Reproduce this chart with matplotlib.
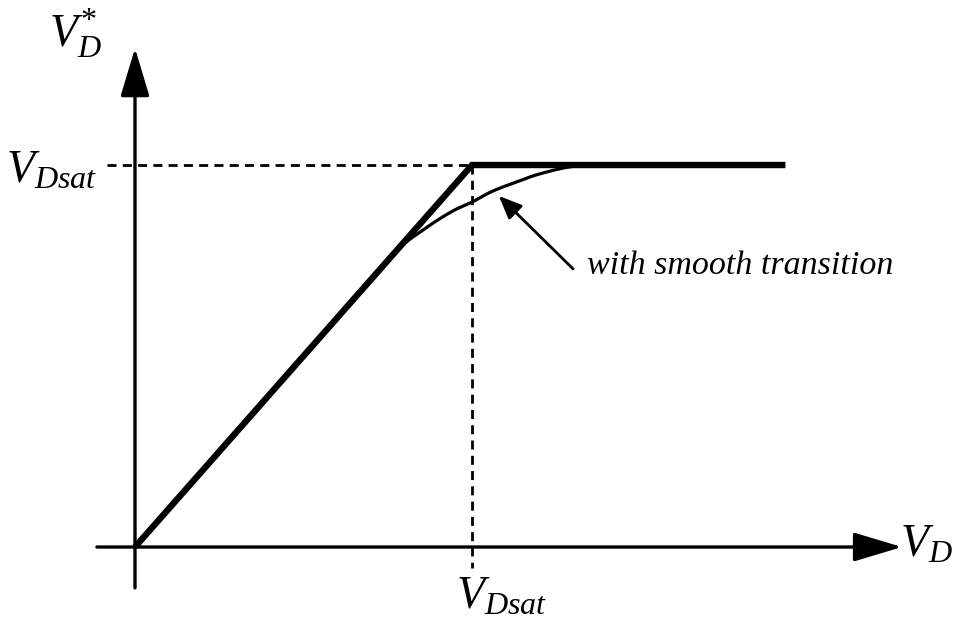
import numpy as np
import matplotlib
matplotlib.use("Agg")
import matplotlib.pyplot as plt
from matplotlib.patches import ArrowStyle

plt.rcParams['font.family'] = 'Liberation Serif'
plt.rcParams['mathtext.fontset'] = 'custom'
plt.rcParams['mathtext.rm'] = 'Liberation Serif'
plt.rcParams['mathtext.it'] = 'Liberation Serif:italic'
plt.rcParams['lines.scale_dashes'] = False

# Everything in units of V_Dsat
v_dsat = 1.0

# Ideal (piecewise) characteristic: linear up to V_Dsat, flat after
ideal_vd = [0.0, 1.0, 1.93]
ideal_vdstar = [0.0, 1.0, 1.0]

# Characteristic with smooth transition
smooth_vd = [0.70, 0.76, 0.80, 0.85, 0.90, 0.95, 1.00, 1.05, 1.09, 1.14, 1.19, 1.27, 1.32, 1.38]
smooth_vdstar = [0.70, 0.76, 0.795, 0.827, 0.857, 0.883, 0.903, 0.927, 0.942, 0.958, 0.974, 0.992, 0.998, 1.0]


def catmull_rom(x, y, n=20):
    # smooth path through the given points
    p = np.column_stack([x, y])
    p = np.vstack([p[0], p, p[-1]])
    out = []
    t = np.linspace(0, 1, n, endpoint=False)[:, None]
    for i in range(1, len(p) - 2):
        p0, p1, p2, p3 = p[i - 1], p[i], p[i + 1], p[i + 2]
        seg = 0.5 * ((2 * p1) + (-p0 + p2) * t
                     + (2 * p0 - 5 * p1 + 4 * p2 - p3) * t ** 2
                     + (-p0 + 3 * p1 - 3 * p2 + p3) * t ** 3)
        out.append(seg)
    out.append(p[-2][None, :])
    out = np.vstack(out)
    return out[:, 0], out[:, 1]


fig = plt.figure(figsize=(9.62, 6.22), dpi=100)
ax = fig.add_axes([0, 0, 1, 1])
ax.set_xlim(-0.4006, 2.454)
ax.set_ylim(-0.1963, 1.432)
ax.axis('off')

# axes with arrowheads
axis_style = ArrowStyle('-|>', head_length=30, head_width=9)
ax.annotate('', xy=(2.276, 0), xytext=(-0.113, 0),
            arrowprops=dict(arrowstyle=axis_style, lw=2.4, color='black',
                            shrinkA=0, shrinkB=0, mutation_scale=1))
ax.annotate('', xy=(0, 1.306), xytext=(0, -0.107),
            arrowprops=dict(arrowstyle=axis_style, lw=2.4, color='black',
                            shrinkA=0, shrinkB=0, mutation_scale=1))

# dashed guides at V_Dsat
ax.plot([-0.083, v_dsat], [v_dsat, v_dsat], color='black', lw=2.0, dashes=(6.5, 4.5))
ax.plot([v_dsat, v_dsat], [v_dsat, -0.055], color='black', lw=2.0, dashes=(6.5, 4.5))

# curves
ax.plot(ideal_vd, ideal_vdstar, color='black', lw=4.6, solid_joinstyle='miter',
        solid_capstyle='butt')
sx, sy = catmull_rom(smooth_vd, smooth_vdstar)
ax.plot(sx, sy, color='black', lw=2.3, solid_capstyle='round')

# annotation: pointer arrow and its label
ax.annotate('', xy=(1.080, 0.919), xytext=(1.300, 0.728),
            arrowprops=dict(arrowstyle=ArrowStyle('-|>', head_length=14, head_width=6),
                            lw=2.0, color='black', mutation_scale=1,
                            shrinkA=0, shrinkB=0))
ax.text(1.341, 0.735, 'with smooth transition', fontsize=24.5, style='italic',
        ha='left', va='center')

# labels
lab = dict(fontsize=33, ha='center', va='center')
ax.text(-0.178, 1.345, r'$V^{*}_{D}$', **lab)
ax.text(-0.246, 0.982, r'$V_{Dsat}$', **lab)
ax.text(1.089, -0.131, r'$V_{Dsat}$', **lab)
ax.text(2.347, 0.003, r'$V_{D}$', **lab)

fig.savefig('out.png', dpi=100)
